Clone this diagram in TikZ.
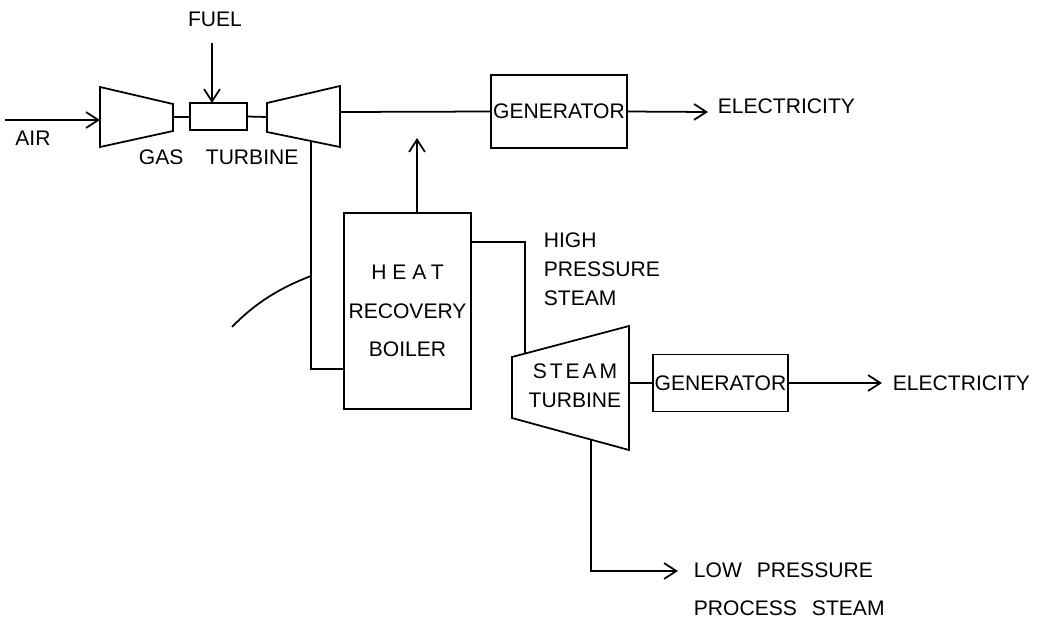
\documentclass[tikz,border=0pt]{standalone}
\usepackage{fontspec}
\setmainfont{Liberation Sans}
\usepackage{tikz}
\usetikzlibrary{positioning, arrows.meta, calc}

\begin{document}
\begin{tikzpicture}[
  x=0.02cm, y=-0.02cm,
  line width=1pt,
  flow/.style={-{Straight Barb[length=7pt,width=9pt,line width=1pt]}, line width=1pt},
  box/.style={draw, line width=1pt, inner sep=0pt, outer sep=0pt, align=center,
              font=\fontsize{12}{14}\selectfont},
  lbl/.style={font=\fontsize{12}{14}\selectfont, inner sep=0pt, align=left},
]
  \useasboundingbox (0,0) rectangle (1042,623);

  % Gas turbine: compressor, combustor, turbine
  \draw (100,87) -- (173,104) -- (173,131) -- (100,147) -- cycle;
  \coordinate (comp-in) at (100,120);
  \coordinate (comp-out) at (173,117);
  \node[box, minimum width=1.14cm, minimum height=0.54cm] (comb) at (218.5,116.5) {};
  \draw (267,103) -- (340,86) -- (340,147) -- (267,132) -- cycle;
  \coordinate (gt-in) at (267,117);
  \coordinate (gt-out) at (340,112);
  \coordinate (gt-exh) at (311,141);

  \coordinate (air) at (5,120);
  \coordinate (fuel) at (212,43);
  \node[lbl] (air-lbl) at (33,138) {AIR};
  \node[lbl] (fuel-lbl) at (215,19) {FUEL};
  \node[lbl, anchor=west] (gt-lbl) at (138,157) {GAS\hspace{0.45cm}TURBINE};

  \draw[flow] (air) -- (comp-in);
  \draw[flow] (fuel) -- (fuel |- comb.north);
  \draw (comp-out) -- (comb.west |- comp-out);
  \draw (comb.east) -- (gt-in);

  % Generator on the gas turbine shaft
  \node[box, minimum width=2.72cm, minimum height=1.46cm] (gen1) at (559,111.5) {GENERATOR};
  \coordinate (elec1) at (708,112);
  \node[lbl, anchor=west] (elec1-lbl) at (717,106) {ELECTRICITY};
  \draw (gt-out) -- (gen1.west);
  \draw[flow] (gen1.east) -- (elec1);

  % Heat recovery boiler
  \node[box, minimum width=2.54cm, minimum height=3.92cm,
        font=\fontsize{12}{22}\selectfont] (hrb) at (407.5,311)
    {{\addfontfeature{LetterSpace=28}HEAT}\\RECOVERY\\BOILER};
  \coordinate (stack) at (417,138);
  \coordinate (exh-turn) at (311,369);
  \draw (gt-exh) -- (exh-turn) -- (exh-turn -| hrb.west);
  \draw[flow] (hrb.north -| stack) -- (stack);
  \draw (311,276) .. controls (282,287) and (256,302) .. (232,327);

  % Steam turbine
  \draw (512,357) -- (629,326) -- (629,450) -- (512,418) -- cycle;
  \coordinate (st-in) at (525,354);
  \coordinate (st-out) at (629,383);
  \coordinate (st-exh) at (591,440);
  \node[lbl, align=center, font=\fontsize{12}{16.5}\selectfont] (st-lbl) at (575,386)
    {{\addfontfeature{LetterSpace=14}STEAM}\\TURBINE};

  \coordinate (hp-turn) at (525,242);
  \draw (hrb.east |- hp-turn) -- (hp-turn) -- (st-in);
  \node[lbl, anchor=north west, font=\fontsize{12}{16.5}\selectfont] (hp-lbl) at (543,232)
    {HIGH\\PRESSURE\\STEAM};

  % Generator on the steam turbine shaft
  \node[box, minimum width=2.70cm, minimum height=1.14cm] (gen2) at (720.5,383) {GENERATOR};
  \coordinate (elec2) at (882,383);
  \node[lbl, anchor=west] (elec2-lbl) at (892,383) {ELECTRICITY};
  \draw (st-out) -- (gen2.west);
  \draw[flow] (gen2.east) -- (elec2);

  % Process steam
  \coordinate (lp-turn) at (591,571);
  \coordinate (lp) at (678,571);
  \draw[flow] (st-exh) -- (lp-turn) -- (lp);
  \node[lbl, anchor=north west, font=\fontsize{12}{21.5}\selectfont] (lp-lbl) at (693,562)
    {LOW\hspace{0.3cm}PRESSURE\\PROCESS\hspace{0.3cm}STEAM};
\end{tikzpicture}
\end{document}
